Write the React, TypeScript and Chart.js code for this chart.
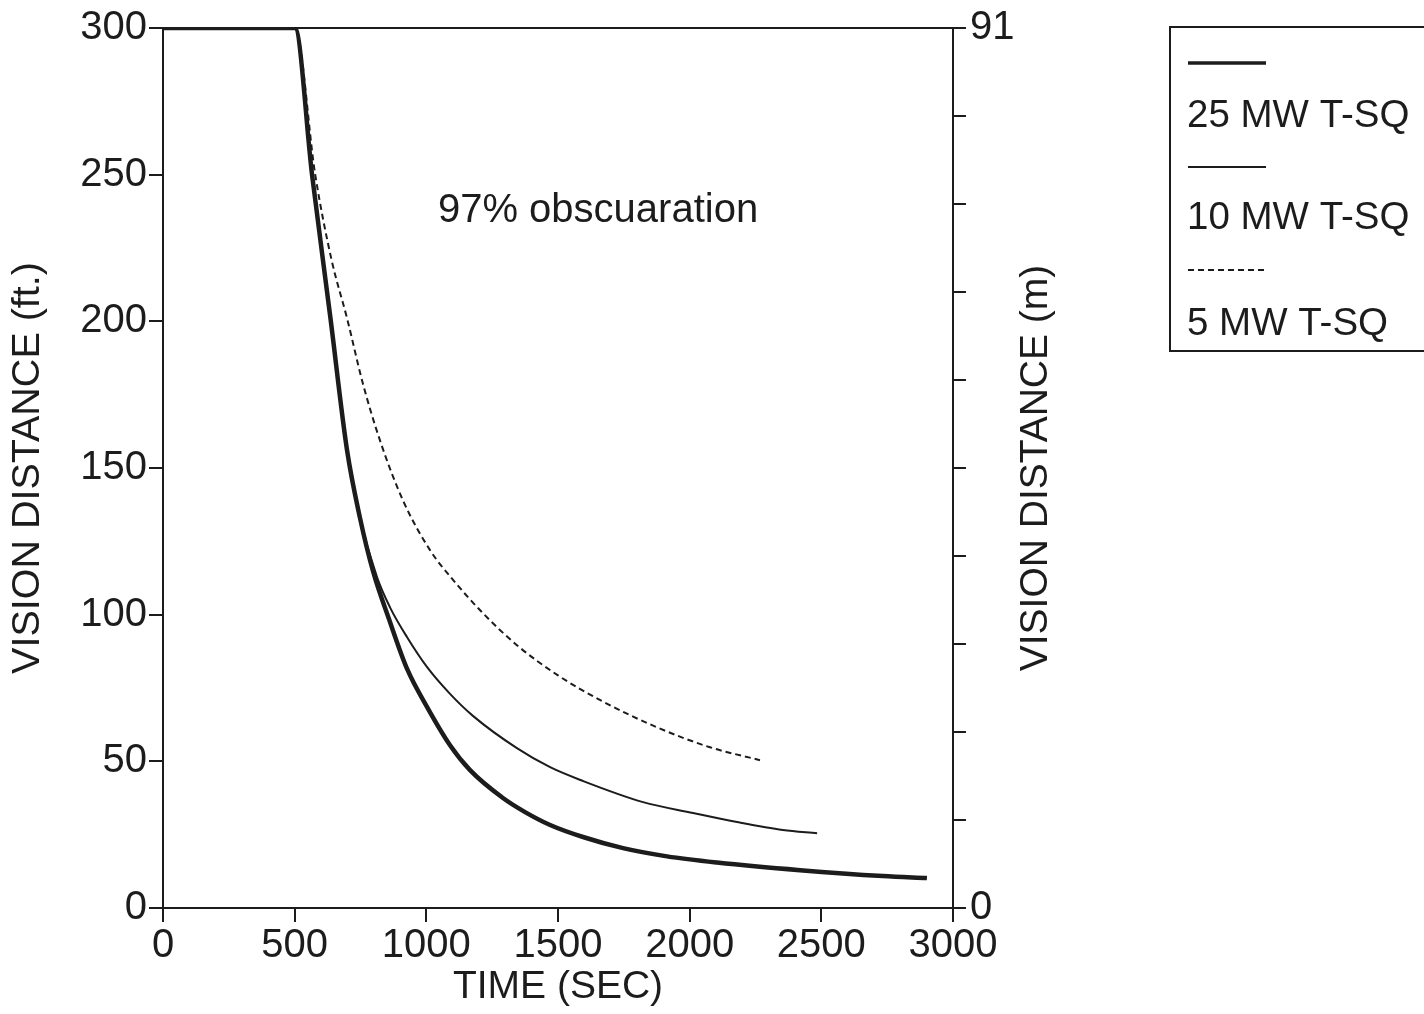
import React, { useEffect, useRef } from 'react';
import { Chart, registerables } from 'chart.js';

Chart.register(...registerables);

// ---- Data (time in seconds, vision distance in ft) ----
const time25 = [0, 501, 566, 636, 699, 748, 797, 862, 927, 1003, 1090, 1166, 1291, 1375, 1470, 1595, 1747, 1914, 2104, 2419, 2734, 2901];
const vis25 = [300, 300, 250, 201, 156, 133, 115, 97.5, 81.5, 68.5, 55.5, 47, 37.5, 32.7, 28.3, 24.2, 20.4, 17.6, 15.5, 12.9, 10.9, 10.2];

const time10 = [0, 501, 566, 636, 699, 748, 813, 862, 927, 1003, 1090, 1177, 1344, 1470, 1595, 1823, 2013, 2180, 2354, 2484];
const vis10 = [300, 300, 250, 201, 156, 133, 112.7, 102.5, 92.3, 82.1, 73, 65.5, 54.5, 48, 43.3, 36.1, 32.4, 29.3, 26.6, 25.5];

const time5 = [0, 501, 578, 640, 699, 759, 824, 911, 1014, 1103, 1215, 1344, 1500, 1672, 1876, 2077, 2267];
const vis5 = [300, 300, 250, 221, 201, 178.8, 159.4, 139, 122, 111.7, 100.5, 89.6, 79.3, 70.3, 61.6, 54.8, 50.4];

const seriesLabels = ['25 MW T-SQ', '10 MW T-SQ', '5 MW T-SQ'];
const xTickStep = 500;
const yTickStep = 50;
const rightTickStep = 30; // ft equivalent of right-axis minor ticks
const rightAxisLabels: Record<number, string> = { 0: '0', 300: '91' };
const annotationText = '97% obscuaration';
const annotationAt = { x: 1652, y: 237.5 };

const FONT = "'Liberation Sans', Arial, Helvetica, sans-serif";
const INK = '#1c1c1c';

const toPts = (xs: number[], ys: number[]) => xs.map((x, i) => ({ x, y: ys[i] }));

export default function App() {
  const ref = useRef<HTMLCanvasElement | null>(null);

  useEffect(() => {
    if (!ref.current) return;

    const overlay = {
      id: 'overlay',
      afterDraw(chart: any) {
        const { ctx, chartArea, scales } = chart;
        ctx.save();
        // top frame line
        ctx.strokeStyle = INK;
        ctx.lineWidth = 2;
        ctx.beginPath();
        ctx.moveTo(chartArea.left, chartArea.top);
        ctx.lineTo(chartArea.right, chartArea.top);
        ctx.stroke();

        // annotation text
        ctx.fillStyle = INK;
        ctx.font = `40px ${FONT}`;
        ctx.textAlign = 'center';
        ctx.textBaseline = 'middle';
        ctx.fillText(annotationText, scales.x.getPixelForValue(annotationAt.x), scales.y.getPixelForValue(annotationAt.y));

        // right axis title (reads bottom-to-top)
        ctx.save();
        ctx.translate(1036, (chartArea.top + chartArea.bottom) / 2);
        ctx.rotate(-Math.PI / 2);
        ctx.font = `39px ${FONT}`;
        ctx.fillText('VISION DISTANCE (m)', 0, 0);
        ctx.restore();

        // legend box
        ctx.lineWidth = 2;
        ctx.beginPath();
        ctx.moveTo(1440, 27);
        ctx.lineTo(1170, 27);
        ctx.lineTo(1170, 351);
        ctx.lineTo(1440, 351);
        ctx.stroke();

        const items = [
          { ly: 63, ty: 116, w: 3.5, dash: [] as number[] },
          { ly: 167, ty: 218, w: 2, dash: [] as number[] },
          { ly: 270, ty: 324, w: 2, dash: [6, 4] },
        ];
        items.forEach((it, i) => {
          ctx.lineWidth = it.w;
          ctx.setLineDash(it.dash);
          ctx.beginPath();
          ctx.moveTo(1188, it.ly);
          ctx.lineTo(1266, it.ly);
          ctx.stroke();
          ctx.setLineDash([]);
          ctx.font = `38.5px ${FONT}`;
          ctx.textAlign = 'left';
          ctx.textBaseline = 'middle';
          ctx.fillText(seriesLabels[i], 1187, it.ty);
        });
        ctx.restore();
      },
    };

    const axisCommon = {
      grid: { display: true, drawOnChartArea: false, drawTicks: true, tickLength: 14, color: INK, lineWidth: 2 },
      border: { display: true, color: INK, width: 2 },
    };

    const common = { borderColor: INK, pointRadius: 0, fill: false, cubicInterpolationMode: 'monotone' };

    const chart = new Chart(ref.current, {
      type: 'line',
      data: {
        datasets: [
          { ...common, label: seriesLabels[0], data: toPts(time25, vis25), borderWidth: 4.5 },
          { ...common, label: seriesLabels[1], data: toPts(time10, vis10), borderWidth: 2 },
          { ...common, label: seriesLabels[2], data: toPts(time5, vis5), borderWidth: 2, borderDash: [6, 4] },
        ],
      },
      options: {
        responsive: false,
        animation: false,
        devicePixelRatio: 1,
        layout: { padding: { top: 27, right: 362, left: 0, bottom: 0 } },
        plugins: { legend: { display: false }, tooltip: { enabled: false } },
        scales: {
          x: {
            type: 'linear',
            position: 'bottom',
            min: 0,
            max: 3000,
            ticks: {
              stepSize: xTickStep,
              color: INK,
              font: { family: FONT, size: 40 },
              padding: 0,
              maxRotation: 0,
              callback: (v: any) => String(v),
            },
            ...axisCommon,
            title: { display: true, text: 'TIME (SEC)', color: INK, font: { family: FONT, size: 39 }, padding: { top: 0, bottom: 3 } },
            afterFit: (s: any) => { s.height = 106; },
          },
          y: {
            type: 'linear',
            position: 'left',
            min: 0,
            max: 300,
            ticks: { stepSize: yTickStep, color: INK, font: { family: FONT, size: 40 }, padding: 2, callback: (v: any) => String(v) },
            ...axisCommon,
            title: { display: true, text: 'VISION DISTANCE (ft.)', color: INK, font: { family: FONT, size: 39.5 }, padding: { top: 4, bottom: 0 } },
            afterFit: (s: any) => { s.width = 163; },
          },
          y2: {
            type: 'linear',
            position: 'right',
            min: 0,
            max: 300,
            ticks: {
              stepSize: rightTickStep,
              color: INK,
              font: { family: FONT, size: 40 },
              padding: 4,
              callback: (v: any) => rightAxisLabels[Math.round(Number(v))] ?? '',
            },
            grid: { display: true, drawOnChartArea: false, drawTicks: true, tickLength: 13, color: INK, lineWidth: 2 },
            border: { display: true, color: INK, width: 2 },
            afterFit: (s: any) => { s.width = 109; },
          },
        },
      } as any,
      plugins: [overlay],
    });

    return () => chart.destroy();
  }, []);

  return (
    <div style={{ position: 'fixed', left: 0, top: 0, width: 1424, height: 1014, background: '#fff' }}>
      <canvas ref={ref} width={1424} height={1014} style={{ display: 'block' }} />
    </div>
  );
}
